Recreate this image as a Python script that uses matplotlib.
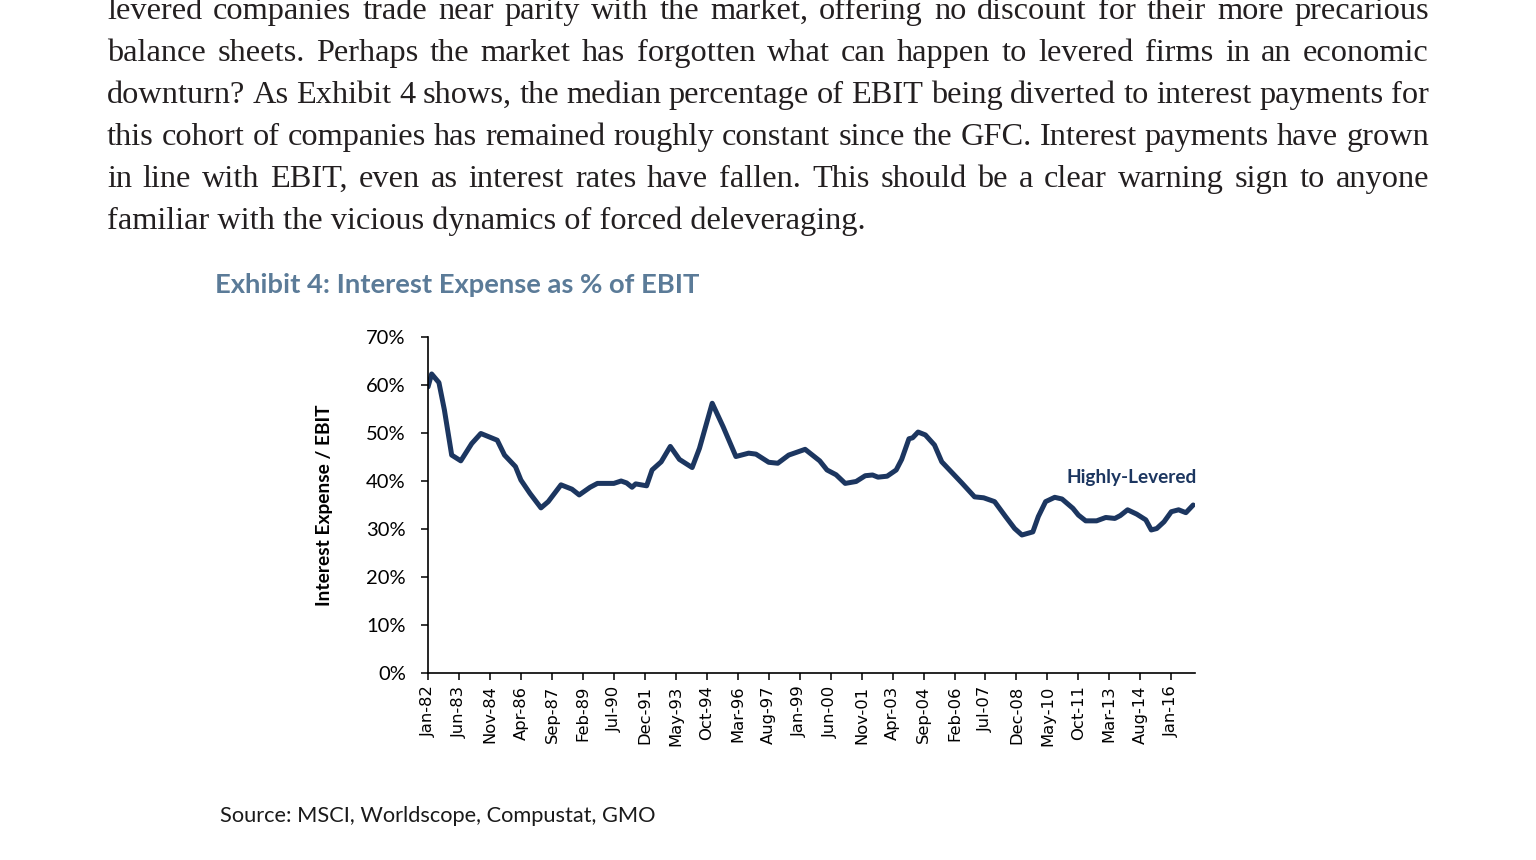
import matplotlib
matplotlib.use("Agg")
import matplotlib.pyplot as plt
from matplotlib.ticker import FuncFormatter
from matplotlib.transforms import IdentityTransform

W, H = 1536, 860

# months (YYYY-MM) and the interest/EBIT ratio in %
dates = ["1982-01", "1982-03", "1982-07", "1982-10", "1983-02", "1983-07", "1984-01", "1984-06",
         "1985-03", "1985-07", "1986-01", "1986-04", "1986-09", "1987-03", "1987-07", "1988-02",
         "1988-08", "1988-12", "1989-06", "1989-10", "1990-07", "1990-11", "1991-02", "1991-05",
         "1991-07", "1992-01", "1992-04", "1992-09", "1993-02", "1993-07", "1994-02", "1994-06",
         "1995-01", "1995-07", "1996-02", "1996-09", "1997-01", "1997-08", "1998-01", "1998-07",
         "1999-04", "1999-12", "2000-04", "2000-09", "2001-02", "2001-08", "2002-01", "2002-05",
         "2002-08", "2003-01", "2003-06", "2003-09", "2004-01", "2004-03", "2004-06", "2004-10",
         "2005-03", "2005-07", "2006-01", "2006-06", "2007-01", "2007-06", "2007-12", "2008-06",
         "2008-11", "2009-03", "2009-09", "2009-12", "2010-04", "2010-09", "2011-01", "2011-07",
         "2011-10", "2012-02", "2012-08", "2013-01", "2013-06", "2013-09", "2014-01", "2014-06",
         "2014-11", "2015-02", "2015-05", "2015-09", "2016-01", "2016-05", "2016-09", "2017-01"]
ratio = [59.6, 62.3, 60.5, 54.8, 45.4, 44.2, 47.8, 49.9,
         48.5, 45.4, 43.0, 40.2, 37.4, 34.4, 35.7, 39.2,
         38.3, 37.1, 38.7, 39.5, 39.5, 40.0, 39.6, 38.7,
         39.4, 39.0, 42.3, 44.0, 47.2, 44.5, 42.8, 46.8,
         56.2, 51.3, 45.1, 45.8, 45.6, 43.9, 43.7, 45.4,
         46.6, 44.2, 42.3, 41.3, 39.5, 39.9, 41.1, 41.25,
         40.8, 41.0, 42.3, 44.5, 48.8, 49.0, 50.2, 49.6,
         47.5, 44.0, 41.6, 39.6, 36.7, 36.5, 35.7, 32.6,
         30.1, 28.75, 29.4, 32.6, 35.7, 36.6, 36.25, 34.3,
         32.9, 31.7, 31.7, 32.4, 32.2, 32.8, 34.0, 33.1,
         31.9, 29.8, 30.1, 31.5, 33.6, 34.0, 33.4, 35.0]

tick_labels = ["Jan-82", "Jun-83", "Nov-84", "Apr-86", "Sep-87", "Feb-89", "Jul-90", "Dec-91",
               "May-93", "Oct-94", "Mar-96", "Aug-97", "Jan-99", "Jun-00", "Nov-01", "Apr-03",
               "Sep-04", "Feb-06", "Jul-07", "Dec-08", "May-10", "Oct-11", "Mar-13", "Aug-14",
               "Jan-16"]

paragraph = [
    "levered companies trade near parity with the market, offering no discount for their more precarious",
    "balance sheets. Perhaps the market has forgotten what can happen to levered firms in an economic",
    "downturn? As Exhibit 4 shows, the median percentage of EBIT being diverted to interest payments for",
    "this cohort of companies has remained roughly constant since the GFC. Interest payments have grown",
    "in line with EBIT, even as interest rates have fallen. This should be a clear warning sign to anyone",
    "familiar with the vicious dynamics of forced deleveraging.",
]

title = "Exhibit 4: Interest Expense as % of EBIT"
source = "Source: MSCI, Worldscope, Compustat, GMO"


def month_index(s):
    y, m = s.split("-")
    return (int(y) - 1982) * 12 + int(m) - 1


x = [month_index(d) for d in dates]
tick_pos = [month_index("1982-01") + 17 * i for i in range(len(tick_labels))]

navy = "#1c3660"
fig = plt.figure(figsize=(W / 100, H / 100), dpi=100)
fig.patch.set_facecolor("white")
renderer = fig.canvas.get_renderer()

# ---- justified body text ----
serif = "Liberation Serif"
tcol = "#231f20"
probe = fig.text(0, 0, paragraph[-1], fontsize=20, family=serif)
w0 = probe.get_window_extent(renderer).width
probe.remove()
fs = 20 * 759 / w0
left, right = 107, 1429
base0, lead = 19, 42
for i, line in enumerate(paragraph):
    yb = 1 - (base0 + i * lead) / H
    words = line.split(" ")
    if i == len(paragraph) - 1:
        fig.text(left / W, yb, line, fontsize=fs, family=serif, color=tcol, va="baseline")
        continue
    arts = [fig.text(0, yb, w, fontsize=fs, family=serif, color=tcol, va="baseline") for w in words]
    widths = [a.get_window_extent(renderer).width for a in arts]
    gap = (right - left - sum(widths)) / (len(words) - 1)
    xp = left
    for a, wd in zip(arts, widths):
        a.set_x(xp / W)
        xp += wd + gap

# ---- title ----
fig.text(215 / W, 1 - 285 / H, title, fontsize=19.7, family="Lato", weight="bold",
         color="#5b7b98", va="center")

# ---- chart ----
ax = fig.add_axes([428 / W, 1 - 673 / H, 767 / W, 336 / H])
ax.plot(x, ratio, color=navy, lw=3.6, solid_joinstyle="round", solid_capstyle="round")
ax.set_xlim(0, 421)
ax.set_ylim(0, 70)
ax.set_yticks(range(0, 71, 10))
ax.yaxis.set_major_formatter(FuncFormatter(lambda v, p: f"{v:.0f}%"))
ax.set_xticks(tick_pos)
ax.set_xticklabels(tick_labels, rotation=90)
ax.tick_params(axis="x", labelfontfamily="DejaVu Sans", labelsize=11.8, pad=4)
ax.tick_params(axis="y", labelfontfamily="Lato", labelsize=14.5, pad=11)
ax.tick_params(axis="both", direction="out", length=5, width=1.1, color="black")
for s in ["top", "right"]:
    ax.spines[s].set_visible(False)
for s in ["left", "bottom"]:
    ax.spines[s].set_linewidth(1.2)
ax.set_ylabel("Interest Expense / EBIT", family="Lato", weight="bold", fontsize=13.8, labelpad=24)

t = ax.text(1197, H - 477, "Highly-Levered", ha="right", va="center",
            family="Lato", weight="bold", fontsize=13.7, color=navy)
t.set_transform(IdentityTransform())

fig.text(220 / W, 1 - 816 / H, source, fontsize=15.7, family="Lato", color="#1a1a1a", va="center")

fig.savefig("out.png", dpi=100)
